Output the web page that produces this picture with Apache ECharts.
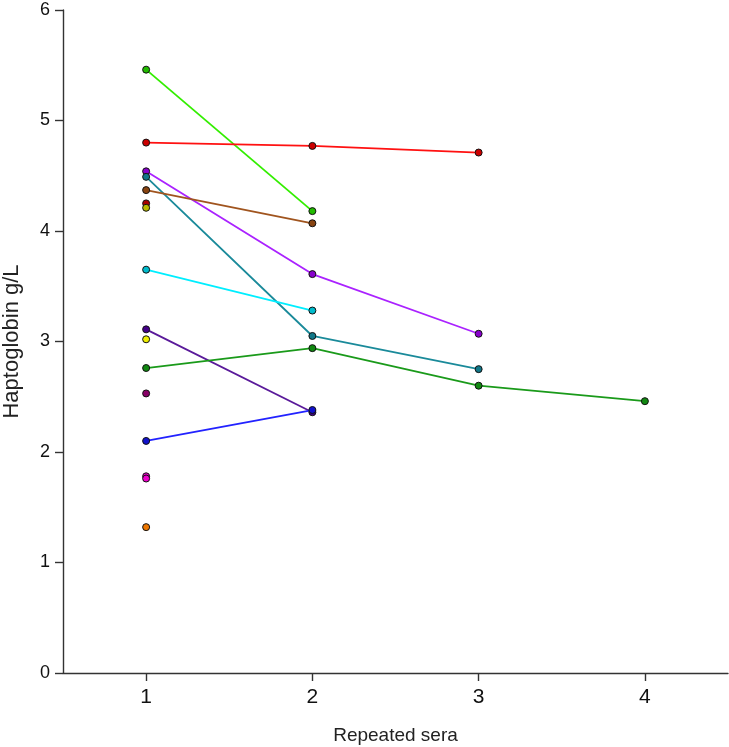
<!DOCTYPE html>
<html>
<head>
<meta charset="utf-8">
<script src="https://cdn.jsdelivr.net/npm/echarts@6/dist/echarts.min.js"></script>
<style>
html,body{margin:0;padding:0;background:#fff;}
#c{width:729px;height:747px;}
</style>
</head>
<body>
<div id="c"></div>
<script>
const xTicks = [1, 2, 3, 4];
const yTicks = [0, 1, 2, 3, 4, 5, 6];

// Subjects followed over repeated sera (values per serum index 1..n)
const sGreenLime   = [5.46, 4.18];
const sRed         = [4.80, 4.77, 4.71];
const sViolet      = [4.54, 3.61, 3.07];
const sTeal        = [4.49, 3.05, 2.75];
const sBrown       = [4.37, 4.07];
const sCyan        = [3.65, 3.28];
const sIndigo      = [3.11, 2.36];
const sDarkGreen   = [2.76, 2.94, 2.60, 2.46];
const sBlue        = [2.10, 2.38];

// Subjects with a single serum
const singleDarkRed  = [4.25];
const singleOlive    = [4.21];
const singleYellow   = [3.02];
const singlePlum     = [2.53];
const singleMagenta  = [1.78, 1.76];
const singleOrange   = [1.32];

const lineSeriesDefs = [
  {name: 'A', vals: sGreenLime, line: '#33ee00', fill: '#22bb00'},
  {name: 'B', vals: sRed, line: '#ff1111', fill: '#cc0000'},
  {name: 'C', vals: sViolet, line: '#aa22ff', fill: '#8800cc'},
  {name: 'D', vals: sTeal, line: '#1a8a9a', fill: '#117788'},
  {name: 'E', vals: sBrown, line: '#a0541e', fill: '#884411'},
  {name: 'F', vals: sCyan, line: '#00eeff', fill: '#00bbcc'},
  {name: 'G', vals: sIndigo, line: '#5a1a9a', fill: '#440088'},
  {name: 'H', vals: sDarkGreen, line: '#1a9a1a', fill: '#118811'},
  {name: 'I', vals: sBlue, line: '#2222ff', fill: '#1111cc'}
];
const singleDefs = [
  {name: 'J', vals: singleDarkRed, fill: '#aa0000'},
  {name: 'K', vals: singleOlive, fill: '#bbbb00'},
  {name: 'L', vals: singleYellow, fill: '#eeee00'},
  {name: 'M', vals: singlePlum, fill: '#880066'},
  {name: 'N', vals: singleMagenta, fill: '#ee00cc'},
  {name: 'O', vals: singleOrange, fill: '#ee7700'}
];

const series = [];
lineSeriesDefs.forEach(d => {
  series.push({
    name: d.name,
    type: 'line',
    data: d.vals.map((v, i) => [xTicks[i], v]),
    symbol: 'circle',
    symbolSize: 7,
    showSymbol: true,
    lineStyle: {color: d.line, width: 1.8},
    itemStyle: {color: d.fill, borderColor: '#111', borderWidth: 1},
    emphasis: {disabled: true},
    animation: false
  });
});
singleDefs.forEach(d => {
  series.push({
    name: d.name,
    type: 'scatter',
    data: d.vals.map(v => [xTicks[0], v]),
    symbol: 'circle',
    symbolSize: 7,
    itemStyle: {color: d.fill, borderColor: '#111', borderWidth: 1, opacity: 1},
    emphasis: {disabled: true},
    animation: false
  });
});

const ff = 'Liberation Sans, Arial, sans-serif';

const chart = echarts.init(document.getElementById('c'), null, {renderer: 'canvas'});
chart.setOption({
  backgroundColor: '#fff',
  animation: false,
  grid: {left: 63, right: 1, top: 10, bottom: 74, containLabel: false, outerBoundsMode: 'none'},
  xAxis: {
    type: 'value',
    min: 0.5,
    max: 4.5,
    name: 'Repeated sera',
    nameLocation: 'middle',
    nameGap: 53,
    nameTextStyle: {fontFamily: ff, fontSize: 19, color: '#222'},
    axisLine: {show: true, onZero: false, lineStyle: {color: '#333', width: 1.4}},
    axisTick: {show: true, length: 8, inside: false, customValues: xTicks, lineStyle: {color: '#333', width: 1.4}},
    axisLabel: {customValues: xTicks, margin: 14, fontFamily: ff, fontSize: 21, color: '#111'},
    splitLine: {show: false}
  },
  yAxis: {
    type: 'value',
    min: 0,
    max: 6,
    interval: 1,
    name: 'Haptoglobin g/L',
    nameLocation: 'middle',
    nameGap: 40,
    nameRotate: 90,
    nameTextStyle: {fontFamily: ff, fontSize: 22, color: '#222'},
    axisLine: {show: true, lineStyle: {color: '#333', width: 1.4}},
    axisTick: {show: true, length: 8, lineStyle: {color: '#333', width: 1.4}},
    axisLabel: {margin: 13, fontFamily: ff, fontSize: 18, color: '#111'},
    splitLine: {show: false}
  },
  series: series
});
</script>
</body>
</html>
